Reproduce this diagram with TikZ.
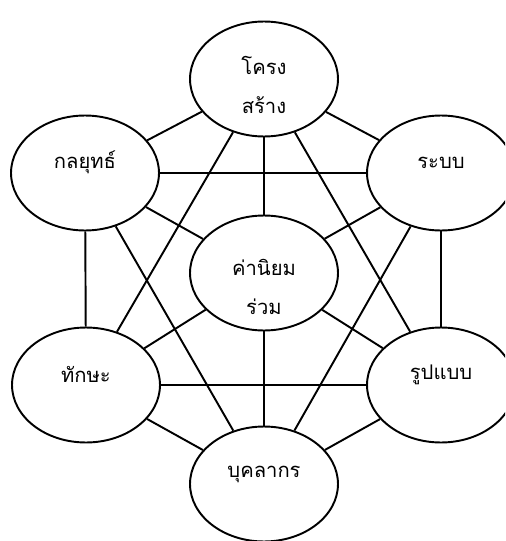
\documentclass[tikz,border=0pt]{standalone}
\usepackage{fontspec}
\usetikzlibrary{shapes.geometric}
\newfontfamily\thaifont[Script=Thai]{Loma}

\begin{document}
\begin{tikzpicture}[x = 0.02cm, y = -0.02cm, ring/.style={ellipse, draw, line width=1.1pt, minimum width=2.96cm, minimum height=2.3cm, inner sep=0pt}, word/.style={font=\thaifont\fontsize{11.5}{22}\selectfont, align=center, inner sep=0pt}, link/.style={line width=1.1pt}]
        \useasboundingbox (0, 0) rectangle (505, 541);
        \clip (0, 0) rectangle (505, 541);

        \node[ring, label={[word, yshift=-3.4pt]center:โครง\\สร้าง}] at (264, 79) (struct){};
        \node[ring, label={[word, yshift=6pt]center:กลยุทธ์}] at (85, 173) (strat){};
        \node[ring, label={[word, yshift=6pt]center:ระบบ}] at (441, 173) (sys){};
        \node[ring, label={[word, yshift=-8pt]center:ค่านิยม\\ร่วม}] at (264, 273) (shared){};
        \node[ring, label={[word, yshift=6pt]center:ทักษะ}] at (86, 385) (skills){};
        \node[ring, label={[word, yshift=6pt]center:รูปแบบ}] at (441, 385) (style){};
        \node[ring, label={[word, yshift=5.7pt]center:บุคลากร}] at (264, 484) (staff){};

        \draw[link] (struct) -- (strat);
        \draw[link] (struct) -- (sys);
        \draw[link] (struct) -- (shared);
        \draw[link] (struct) -- (skills);
        \draw[link] (struct) -- (style);
        \draw[link] (strat) -- (sys);
        \draw[link] (strat) -- (shared);
        \draw[link] (strat) -- (skills);
        \draw[link] (strat) -- (staff);
        \draw[link] (sys) -- (shared);
        \draw[link] (sys) -- (style);
        \draw[link] (sys) -- (staff);
        \draw[link] (skills) -- (shared);
        \draw[link] (skills) -- (style);
        \draw[link] (skills) -- (staff);
        \draw[link] (style) -- (shared);
        \draw[link] (style) -- (staff);
        \draw[link] (shared) -- (staff);
\end{tikzpicture}
\end{document}
